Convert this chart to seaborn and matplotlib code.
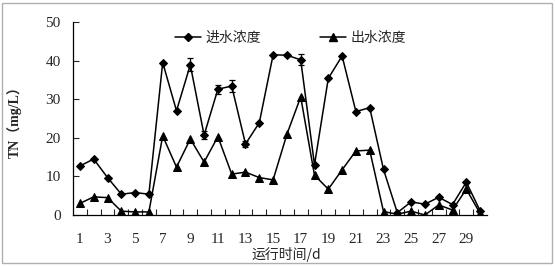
import numpy as np
import pandas as pd
import seaborn as sns
import matplotlib
matplotlib.use("Agg")
import matplotlib.pyplot as plt
from matplotlib.patches import Rectangle
from matplotlib.lines import Line2D

days = list(range(1, 31))
inflow = [12.7, 14.5, 9.7, 5.4, 5.8, 5.4, 39.5, 27.0, 38.9, 20.7,
          32.6, 33.4, 18.4, 23.9, 41.5, 41.4, 40.2, 13.0, 35.4, 41.2,
          26.8, 27.8, 11.8, 0.6, 3.4, 2.8, 4.6, 2.7, 8.5, 1.1]
inflow_err = [0, 0, 0, 0, 0, 0, 0, 0, 1.7, 1.0,
              1.2, 1.5, 0.8, 0, 0, 0.3, 1.4, 0, 0, 0,
              0, 0, 0, 0, 0, 0, 0, 0, 0, 0]
outflow = [3.0, 4.7, 4.5, 1.0, 0.8, 0.8, 20.5, 12.4, 19.7, 13.7,
           20.3, 10.6, 11.1, 9.7, 9.1, 20.9, 30.6, 10.3, 6.7, 11.7,
           16.6, 16.8, 0.9, 0.2, 1.0, 0.0, 2.6, 1.3, 6.7, 0.4]
series_names = ["进水浓度", "出水浓度"]
xtick_labels = [str(d) for d in range(1, 31, 2)]
yticks = [0, 10, 20, 30, 40, 50]

sns.set_style("white")
plt.rcParams["font.family"] = ["Liberation Serif", "Noto Sans CJK SC", "DejaVu Sans"]

fig = plt.figure(figsize=(5.55, 2.66), dpi=100)
ax = fig.add_axes([73/555, 1-215/266, (487-73)/555, (215-22)/266])

df = pd.DataFrame({"day": days * 2,
                   "TN": inflow + outflow,
                   "series": [series_names[0]] * 30 + [series_names[1]] * 30})

sns.lineplot(data=df[df.series == series_names[0]], x="day", y="TN", ax=ax,
             color="black", lw=1.1, marker="D", markersize=4.4,
             markeredgecolor="black", legend=False)
sns.lineplot(data=df[df.series == series_names[1]], x="day", y="TN", ax=ax,
             color="black", lw=1.1, marker="^", markersize=5.5,
             markeredgecolor="black", legend=False)
err_days = [d for d, e in zip(days, inflow_err) if e > 0]
err_vals = [v for v, e in zip(inflow, inflow_err) if e > 0]
err_e = [e for e in inflow_err if e > 0]
ax.errorbar(err_days, err_vals, yerr=err_e, fmt="none", ecolor="black",
            elinewidth=0.9, capsize=2.5, capthick=0.9)

ax.set_xlim(0.5, 30.5)
ax.set_ylim(0, 50)
ax.set_xticks(list(range(1, 31, 2)))
ax.set_xticklabels(xtick_labels)
ax.set_xticks(np.arange(1.5, 30.5, 1.0), minor=True)
ax.set_yticks(yticks)
ax.tick_params(axis="x", which="major", length=0, pad=13, labelsize=11)
ax.tick_params(axis="x", which="minor", direction="in", length=4, width=0.8,
               bottom=True)
ax.tick_params(axis="y", direction="in", length=4, width=0.8, pad=9,
               labelsize=11, left=True)
for s in ["top", "right"]:
    ax.spines[s].set_visible(False)
for s in ["left", "bottom"]:
    ax.spines[s].set_color("black")
    ax.spines[s].set_linewidth(0.9)

ax.set_xlabel("运行时间/d", fontsize=10, labelpad=1,
              family=["Noto Sans CJK SC", "DejaVu Sans"])
ax.xaxis.set_label_coords(0.5 + (286-280)/414, -0.165)
ax.set_ylabel("TN（mg/L）", fontsize=10, fontweight="bold",
              family=["Liberation Serif", "Noto Sans CJK SC"])
ax.yaxis.set_label_coords(-(73-22)/414, 0.5)

h1 = Line2D([], [], color="black", lw=1.1, marker="D", markersize=4.4)
h2 = Line2D([], [], color="black", lw=1.1, marker="^", markersize=5.5)
leg1 = ax.legend([h1], [series_names[0]], loc="center left",
                 bbox_to_anchor=((168-73)/414, (215-38)/193), frameon=False,
                 handlelength=1.9, handletextpad=0.3, borderpad=0,
                 prop={"family": "Noto Sans CJK SC", "size": 10})
ax.add_artist(leg1)
ax.legend([h2], [series_names[1]], loc="center left",
          bbox_to_anchor=((313-73)/414, (215-38)/193), frameon=False,
          handlelength=1.9, handletextpad=0.3, borderpad=0,
          prop={"family": "Noto Sans CJK SC", "size": 10})

fig.patches.append(Rectangle((2/555, 3/266), 550/555, 260/266,
                             transform=fig.transFigure, fill=False,
                             edgecolor="#b0b0b0", lw=1.0))

fig.savefig("out.png", dpi=100)
